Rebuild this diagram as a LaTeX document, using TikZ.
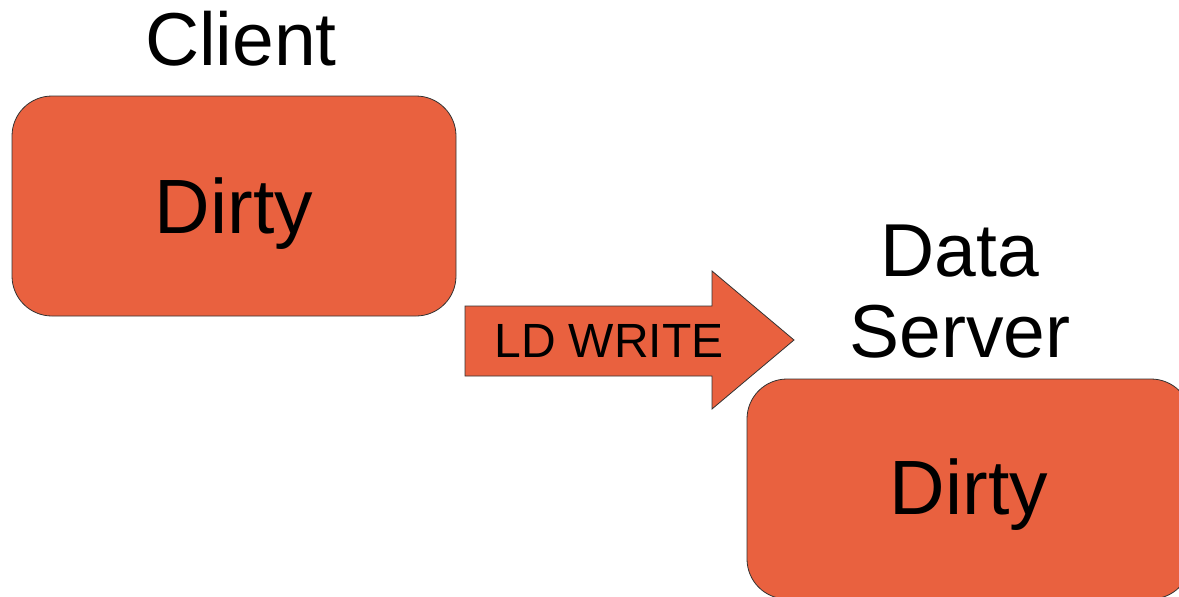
\documentclass[tikz,border=0pt]{standalone}
\usepackage{fontspec}
\setmainfont{Liberation Sans}
\definecolor{boxorange}{HTML}{E9613F}
\begin{document}
\begin{tikzpicture}[x=1pt,y=1pt,
  statebox/.style={draw=black!80, line width=0.8pt, fill=boxorange, rounded corners=40pt},
  bigtext/.style={anchor=base, inner sep=0pt, font=\fontsize{75}{85}\selectfont},
  statetext/.style={anchor=base, inner sep=0pt, font=\fontsize{77}{87}\selectfont},
  arrowtext/.style={anchor=base, inner sep=0pt, font=\fontsize{48}{54}\selectfont}]
\useasboundingbox (0,0) rectangle (1179,-597);
\clip (0,0) rectangle (1179,-597);
% Client box
\draw[statebox] (12,-96) rectangle (456,-316);
\node[bigtext] (clientlabel) at (241,-65) {Client};
\node[statetext] (clientstate) at (234,-233) {Dirty};
% Data server box
\draw[statebox] (747,-379) rectangle (1191,-599);
\node[bigtext] (serverlabel1) at (960,-276) {Data};
\node[bigtext] (serverlabel2) at (960,-357) {Server};
\node[statetext] (serverstate) at (969,-514) {Dirty};
% Arrow
\draw[fill=boxorange, draw=black!80, line width=0.8pt]
  (465,-306) -- (712,-306) -- (712,-271) -- (794,-340) -- (712,-409) -- (712,-376) -- (465,-376) -- cycle;
\node[arrowtext] (arrowlabel) at (609,-357) {LD WRITE};
\end{tikzpicture}
\end{document}
